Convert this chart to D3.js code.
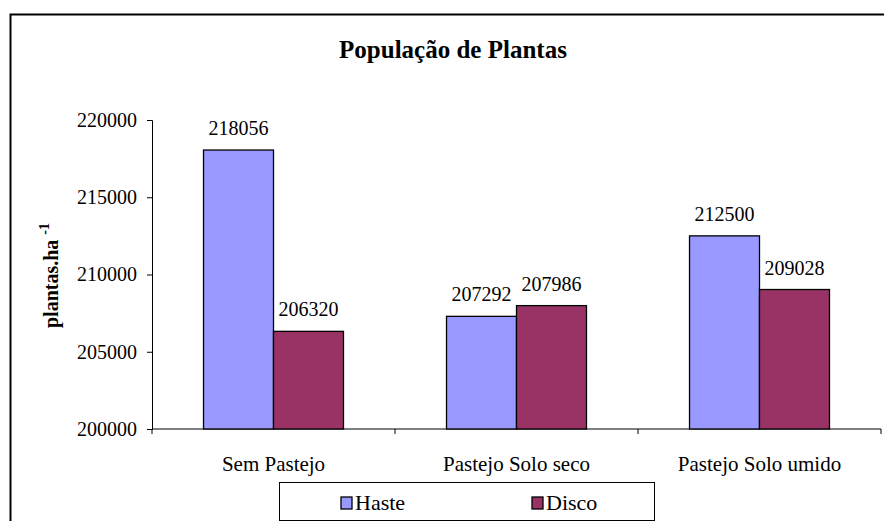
<!DOCTYPE html>
<html>
<head>
<meta charset="utf-8">
<script src="https://cdn.jsdelivr.net/npm/d3@7"></script>
<style>
  body { margin: 0; background: #fff; }
</style>
</head>
<body>
<div id="chart"></div>
<script>
// Data
const categories = ["Sem Pastejo", "Pastejo Solo seco", "Pastejo Solo umido"];
const seriesNames = ["Haste", "Disco"];
const haste = [218056, 207292, 212500];
const disco = [206320, 207986, 209028];
const yTicks = [200000, 205000, 210000, 215000, 220000];

const width = 884;
const height = 521;
const plot = { left: 152, right: 881, top: 120, bottom: 429 };
const fontStack = "'Liberation Serif', 'Times New Roman', serif";

const svg = d3.select("#chart").append("svg")
    .attr("width", width)
    .attr("height", height)
    .style("font-family", fontStack);

// outer chart border (cropped at right/bottom)
svg.append("rect")
    .attr("x", 10.5).attr("y", 14.5)
    .attr("width", 890).attr("height", 530)
    .attr("fill", "none")
    .attr("stroke", "#000")
    .attr("stroke-width", 2);

const color = d3.scaleOrdinal().domain(seriesNames).range(["#9999FF", "#993366"]);

const x0 = d3.scaleBand()
    .domain(categories)
    .range([plot.left, plot.right]);

// bars fill about 58% of each category slot (Excel gap width 150)
const inner = 0.576;
const x1 = d3.scaleBand()
    .domain(seriesNames)
    .range([x0.bandwidth() * (1 - inner) / 2, x0.bandwidth() * (1 + inner) / 2]);

const y = d3.scaleLinear()
    .domain([200000, 220000])
    .range([plot.bottom, plot.top]);

const rows = categories.map((c, i) => ({ cat: c, values: [
    { key: "Haste", value: haste[i] },
    { key: "Disco", value: disco[i] }
]}));

// Title
svg.append("text")
    .attr("x", 453).attr("y", 58)
    .attr("text-anchor", "middle")
    .style("font-weight", "bold")
    .style("font-size", "25px")
    .text("População de Plantas");

// Y axis
const yAxis = d3.axisLeft(y).tickValues(yTicks).tickSize(5).tickPadding(10).tickFormat(d3.format("d"));
const gy = svg.append("g")
    .attr("transform", `translate(${plot.left},0)`)
    .call(yAxis)
    .attr("font-family", null);
gy.selectAll("text").style("font-size", "20px").attr("fill", "#000");
gy.selectAll("line, path").attr("stroke", "#000");

// X axis with tick marks at category boundaries
const gx = svg.append("g").attr("transform", `translate(0,${plot.bottom})`);
gx.append("line")
    .attr("x1", plot.left).attr("x2", plot.right)
    .attr("stroke", "#000");
const bounds = categories.map(c => x0(c)).concat([x0(categories[categories.length - 1]) + x0.bandwidth()]);
gx.selectAll("line.tick")
    .data(bounds)
    .enter().append("line")
    .attr("class", "tick")
    .attr("x1", d => d).attr("x2", d => d)
    .attr("y1", 0).attr("y2", 5)
    .attr("stroke", "#000");
gx.selectAll("text")
    .data(categories)
    .enter().append("text")
    .attr("x", d => x0(d) + x0.bandwidth() / 2)
    .attr("y", 42)
    .attr("text-anchor", "middle")
    .style("font-size", "21px")
    .text(d => d);

// Bars
const groups = svg.selectAll("g.cat")
    .data(rows)
    .enter().append("g")
    .attr("class", "cat")
    .attr("transform", d => `translate(${x0(d.cat)},0)`);

groups.selectAll("rect")
    .data(d => d.values)
    .enter().append("rect")
    .attr("x", d => x1(d.key))
    .attr("y", d => y(d.value))
    .attr("width", x1.bandwidth())
    .attr("height", d => y(200000) - y(d.value))
    .attr("fill", d => color(d.key))
    .attr("stroke", "#000")
    .attr("stroke-width", 1.3);

groups.selectAll("text")
    .data(d => d.values)
    .enter().append("text")
    .attr("x", d => x1(d.key) + x1.bandwidth() / 2)
    .attr("y", d => y(d.value) - 15)
    .attr("text-anchor", "middle")
    .style("font-size", "20px")
    .text(d => d.value);

// Y label
const ylab = svg.append("text")
    .attr("transform", "translate(58,328) rotate(-90)")
    .attr("text-anchor", "start")
    .style("font-weight", "bold")
    .style("font-size", "20px");
ylab.append("tspan").text("plantas.ha ");
ylab.append("tspan").attr("dy", -9).style("font-size", "14px").text("-1");

// Legend
const legend = svg.append("g");
legend.append("rect")
    .attr("x", 279.5).attr("y", 482.5)
    .attr("width", 375).attr("height", 38)
    .attr("fill", "#fff")
    .attr("stroke", "#000");
const legendX = [341, 532];
const li = legend.selectAll("g.item")
    .data(seriesNames)
    .enter().append("g")
    .attr("transform", (d, i) => `translate(${legendX[i]},497)`);
li.append("rect")
    .attr("width", 11).attr("height", 12)
    .attr("fill", d => color(d))
    .attr("stroke", "#000")
    .attr("stroke-width", 1.3);
li.append("text")
    .attr("x", 14).attr("y", 13)
    .style("font-size", "22px")
    .text(d => d);

svg.selectAll("text").style("font-family", fontStack);
</script>
</body>
</html>
